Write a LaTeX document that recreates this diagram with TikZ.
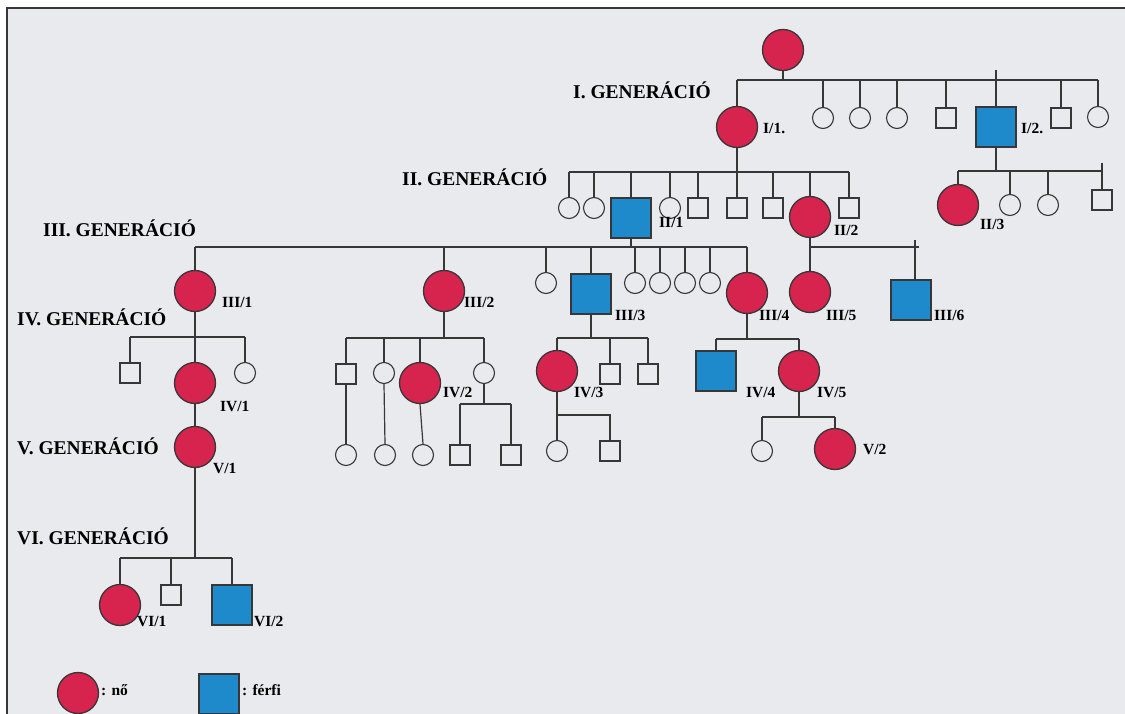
\documentclass[tikz,border=0pt]{standalone}
\usepackage{fontspec}
\setmainfont{Liberation Serif}
\definecolor{bg}{RGB}{233,234,238}
\definecolor{fem}{RGB}{214,36,78}
\definecolor{mal}{RGB}{30,138,204}
\definecolor{ln}{RGB}{55,55,55}
\begin{document}
\begin{tikzpicture}[x=1pt,y=-1pt,
  bigF/.style={circle,draw=ln,fill=fem,line width=1.3pt,minimum size=41pt,inner sep=0pt},
  bigM/.style={rectangle,draw=ln,fill=mal,line width=1.3pt,minimum size=40pt,inner sep=0pt},
  smF/.style={circle,draw=ln,line width=1.1pt,minimum size=21pt,inner sep=0pt},
  smM/.style={rectangle,draw=ln,line width=1.1pt,minimum size=20pt,inner sep=0pt},
  lnk/.style={draw=ln,line width=1.2pt},
  gen/.style={font=\fontsize{19.5}{22}\selectfont\bfseries,anchor=base west,inner sep=0pt,text=black},
  lab/.style={font=\fontsize{15.5}{17}\selectfont\bfseries,anchor=base west,inner sep=0pt,text=black},
]
\useasboundingbox (0,0) rectangle (1125,714);
\fill[white] (0,0) rectangle (1125,714);
\fill[bg] (7,8) rectangle (1125,714);
\draw[line width=1.5pt,ln] (7,714) -- (7,8) -- (1125,8);

% ---------- Generation I ----------
\node[bigF] (g0) at (783,50) {};
\coordinate (b1) at (0,80);
\coordinate (t1) at (0,70);
\node[bigF] (i1) at (737,127) {};
\node[smF] (c1) at (823,118) {};
\node[smF] (c2) at (860,118) {};
\node[smF] (c3) at (897,118) {};
\node[smM] (s1) at (946,118) {};
\node[bigM] (i2) at (996,127) {};
\node[smM] (s2) at (1061,118) {};
\node[smF] (c4) at (1098,117) {};
\draw[lnk] (g0.south) -- (g0.south |- b1);
\draw[lnk] (i1.north |- b1) -- (c4.north |- b1);
\foreach \n in {i1,c1,c2,c3,s1,s2,c4} \draw[lnk] (\n.north |- b1) -- (\n.north);
\draw[lnk] (i2.north |- t1) -- (i2.north);

% ---------- Generation II ----------
\coordinate (b2) at (0,172);
\node[smF] (a1) at (569,208) {};
\node[smF] (a2) at (594,208) {};
\node[bigM] (ii1) at (631,218) {};
\node[smF] (a3) at (670,208) {};
\node[smM] (a4) at (698,208) {};
\node[smM] (a5) at (737,208) {};
\node[smM] (a6) at (773,208) {};
\node[bigF] (ii2) at (810,217) {};
\node[smM] (a7) at (849,208) {};
\draw[lnk] (i1.south) -- (i1.south |- b2);
\draw[lnk] (a1.north |- b2) -- (a7.north |- b2);
\foreach \n in {a1,a2,ii1,a3,a4,a5,a6,ii2,a7} \draw[lnk] (\n.north |- b2) -- (\n.north);

% I/2 branch
\coordinate (b2r) at (0,171);
\coordinate (t2) at (0,163);
\node[bigF] (ii3) at (958,205) {};
\node[smF] (r1) at (1010,205) {};
\node[smF] (r2) at (1048,205) {};
\node[smM] (r3) at (1102,200) {};
\draw[lnk] (i2.south) -- (i2.south |- b2r);
\draw[lnk] (ii3.north |- b2r) -- (r3.north |- b2r);
\foreach \n in {ii3,r1,r2} \draw[lnk] (\n.north |- b2r) -- (\n.north);
\draw[lnk] (r3.north |- t2) -- (r3.north);

% ---------- Generation III ----------
\coordinate (b3) at (0,247);
\node[bigF] (iii1) at (195,291) {};
\node[bigF] (iii2) at (444,291) {};
\node[smF] (d1) at (546,283) {};
\node[bigM] (iii3) at (591,294) {};
\node[smF] (d2) at (635,283) {};
\node[smF] (d3) at (660,283) {};
\node[smF] (d4) at (685,283) {};
\node[smF] (d5) at (710,283) {};
\node[bigF] (iii4) at (747,293) {};
\draw[lnk] (ii1.south) -- (ii1.south |- b3);
\draw[lnk] (iii1.north |- b3) -- (iii4.north |- b3);
\foreach \n in {iii1,iii2,d1,iii3,d2,d3,d4,d5,iii4} \draw[lnk] (\n.north |- b3) -- (\n.north);

% II/2 branch
\node[bigF] (iii5) at (810,292) {};
\node[bigM] (iii6) at (911,300) {};
\coordinate (e3) at (919,247);
\coordinate (t3) at (915,240);
\draw[lnk] (ii2.south) -- (iii5.north);
\draw[lnk] (ii2.south |- b3) -- (e3);
\draw[lnk] (t3) -- (iii6.north -| t3);

% ---------- Generation IV ----------
% III/1 branch
\coordinate (b4a) at (0,337);
\node[smM] (e1) at (130,373) {};
\node[bigF] (iv1) at (195,383) {};
\node[smF] (e2) at (245,373) {};
\draw[lnk] (iii1.south) -- (iii1.south |- b4a);
\draw[lnk] (e1.north |- b4a) -- (e2.north |- b4a);
\foreach \n in {e1,iv1,e2} \draw[lnk] (\n.north |- b4a) -- (\n.north);

% III/2 branch
\coordinate (b4b) at (0,338);
\node[smM] (g1) at (346,374) {};
\node[smF] (g2) at (384,373) {};
\node[bigF] (iv2) at (420,383) {};
\node[smF] (g3) at (484,373) {};
\draw[lnk] (iii2.south) -- (iii2.south |- b4b);
\draw[lnk] (g1.north |- b4b) -- (g3.north |- b4b);
\foreach \n in {g1,g2,iv2,g3} \draw[lnk] (\n.north |- b4b) -- (\n.north);

% III/3 branch
\coordinate (b4c) at (0,338);
\node[bigF] (iv3) at (557,371) {};
\node[smM] (k1) at (610,374) {};
\node[smM] (k2) at (648,374) {};
\draw[lnk] (iii3.south) -- (iii3.south |- b4c);
\draw[lnk] (iv3.north |- b4c) -- (k2.north |- b4c);
\foreach \n in {iv3,k1,k2} \draw[lnk] (\n.north |- b4c) -- (\n.north);

% III/4 branch
\coordinate (b4d) at (0,339);
\node[bigM] (iv4) at (716,371) {};
\node[bigF] (iv5) at (799,371) {};
\draw[lnk] (iii4.south) -- (iii4.south |- b4d);
\draw[lnk] (iv4.north |- b4d) -- (iv5.north |- b4d);
\foreach \n in {iv4,iv5} \draw[lnk] (\n.north |- b4d) -- (\n.north);

% ---------- Generation V ----------
\node[bigF] (v1) at (195,447) {};
\draw[lnk] (iv1.south) -- (v1.north);

\node[smF] (h1) at (346,455) {};
\node[smF] (h2) at (385,455) {};
\node[smF] (h3) at (423,455) {};
\node[smM] (h4) at (460,455) {};
\node[smM] (h5) at (511,455) {};
\coordinate (b5b) at (0,404);
\draw[lnk] (g1.south) -- (h1.north);
\draw[lnk] (g2.south) -- (h2.north);
\draw[lnk] (iv2.south) -- (h3.north);
\draw[lnk] (g3.south) -- (g3.south |- b5b);
\draw[lnk] (h4.north |- b5b) -- (h5.north |- b5b);
\foreach \n in {h4,h5} \draw[lnk] (\n.north |- b5b) -- (\n.north);

\coordinate (b5c) at (0,415);
\node[smF] (m1) at (557,451) {};
\node[smM] (m2) at (610,451) {};
\draw[lnk] (iv3.south) -- (m1.north);
\draw[lnk] (iv3.south |- b5c) -- (m2.north |- b5c) -- (m2.north);

\coordinate (b5d) at (0,417);
\node[smF] (n1) at (762,451) {};
\node[bigF] (v2) at (835,449) {};
\draw[lnk] (iv5.south) -- (iv5.south |- b5d);
\draw[lnk] (n1.north |- b5d) -- (v2.north |- b5d);
\foreach \n in {n1,v2} \draw[lnk] (\n.north |- b5d) -- (\n.north);

% ---------- Generation VI ----------
\coordinate (b6) at (0,558);
\node[bigF] (vi1) at (120,605) {};
\node[smM] (f1) at (171,595) {};
\node[bigM] (vi2) at (232,605) {};
\draw[lnk] (v1.south) -- (v1.south |- b6);
\draw[lnk] (vi1.north |- b6) -- (vi2.north |- b6);
\foreach \n in {vi1,f1,vi2} \draw[lnk] (\n.north |- b6) -- (\n.north);

% ---------- Legend ----------
\node[bigF] (lf) at (78,693) {};
\node[bigM] (lm) at (219,694) {};
\node[lab] (lfT) at (101,695) {: nő};
\node[lab] (lmT) at (242,695) {: férfi};

% ---------- Generation labels ----------
\node[gen] (G1) at (573,99) {I. GENERÁCIÓ};
\node[gen] (G2) at (402,186) {II. GENERÁCIÓ};
\node[gen] (G3) at (43,237) {III. GENERÁCIÓ};
\node[gen] (G4) at (17,325) {IV. GENERÁCIÓ};
\node[gen] (G5) at (17,454) {V. GENERÁCIÓ};
\node[gen] (G6) at (17,544) {VI. GENERÁCIÓ};

% ---------- Person labels ----------
\node[lab] (lI1) at (763,134) {I/1.};
\node[lab] (lI2) at (1021,134) {I/2.};
\node[lab] (lII1) at (659,228) {II/1};
\node[lab] (lII2) at (834,236) {II/2};
\node[lab] (lII3) at (980,230) {II/3};
\node[lab] (lIII1) at (222,307) {III/1};
\node[lab] (lIII2) at (464,307) {III/2};
\node[lab] (lIII3) at (615,320) {III/3};
\node[lab] (lIII4) at (759,320) {III/4};
\node[lab] (lIII5) at (826,320) {III/5};
\node[lab] (lIII6) at (934,320) {III/6};
\node[lab] (lIV1) at (220,411) {IV/1};
\node[lab] (lIV2) at (443,397) {IV/2};
\node[lab] (lIV3) at (574,397) {IV/3};
\node[lab] (lIV4) at (746,397) {IV/4};
\node[lab] (lIV5) at (817,397) {IV/5};
\node[lab] (lV1) at (213,473) {V/1};
\node[lab] (lV2) at (863,454) {V/2};
\node[lab] (lVI1) at (137,626) {VI/1};
\node[lab] (lVI2) at (254,626) {VI/2};
\end{tikzpicture}
\end{document}
